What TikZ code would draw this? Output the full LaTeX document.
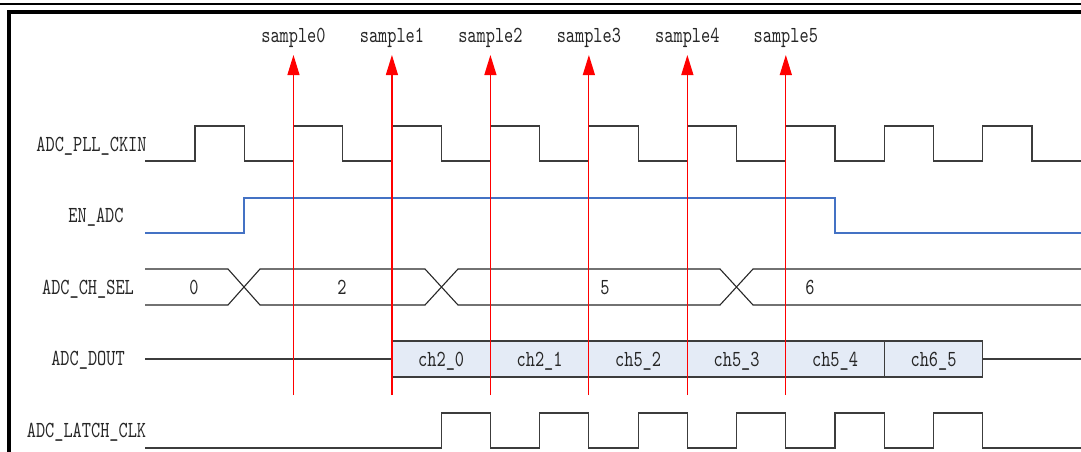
\documentclass[tikz,border=0pt]{standalone}
\usepackage{fontspec}
\usepackage{xcolor}
\usepackage{tikz}
\usetikzlibrary{arrows.meta, positioning}
\newfontfamily\wavefont[FakeStretch=0.76, Extension=.otf]{lmmono10-regular}
\definecolor{siggray}{RGB}{60,60,60}
\definecolor{enblue}{RGB}{68,114,196}
\definecolor{doutfill}{RGB}{228,235,246}
\definecolor{samplered}{RGB}{255,0,0}
\newcommand{\hp}{49.235}
\tikzset{
  lbl/.style={font=\wavefont\fontsize{23}{23}\selectfont, text=black!85,
    inner sep=0pt, text height=14pt, text depth=0pt},
  sig/.style={line width=1.2pt, color=siggray},
  ensig/.style={line width=1.6pt, color=enblue},
  busline/.style={line width=1.1pt, color=black!85},
  doutbox/.style={rectangle, draw=siggray, line width=1.1pt, fill=doutfill,
    minimum width=2*\hp pt, minimum height=36pt, inner sep=0pt,
    lbl, text height=14pt},
  samplearrow/.style={-{Triangle[length=20pt, width=12pt]}, line width=1.2pt,
    color=samplered},
}
\begin{document}
\begin{tikzpicture}[x=1pt, y=-1pt]
  \useasboundingbox (0,0) rectangle (1081,452);
  \draw[line width=2pt] (0,4) -- (1081,4);
  \draw[line width=3.5pt] (8.8,452) -- (8.8,11.8) -- (1081,11.8);

  \node[lbl] (ckinlbl) at (91.5,144) {ADC\_PLL\_CKIN};
  \node[lbl] (enlbl) at (96,215) {EN\_ADC};
  \node[lbl] (sellbl) at (88,287) {ADC\_CH\_SEL};
  \node[lbl] (doutlbl) at (88,358) {ADC\_DOUT};
  \node[lbl] (latchlbl) at (86.5,430) {ADC\_LATCH\_CLK};

  \draw[sig] (145,161) foreach \k in {0,...,8} {
      -- ({195+2*\k*\hp},161) -- ({195+2*\k*\hp},126)
      -- ({195+(2*\k+1)*\hp},126) -- ({195+(2*\k+1)*\hp},161) }
    -- (1081,161);

  \draw[ensig] (145,233) -- ({195+\hp},233) -- ({195+\hp},198)
    -- ({195+13*\hp},198) -- ({195+13*\hp},233) -- (1081,233);

  \draw[busline] (145,269) -- (228,269) -- (260,305) -- (425,305) -- (458,269)
    -- (720,269) -- (753,305) -- (1081,305);
  \draw[busline] (145,305) -- (228,305) -- (260,269) -- (425,269) -- (458,305)
    -- (720,305) -- (753,269) -- (1081,269);
  \node[lbl] (sel0) at (194,287) {0};
  \node[lbl] (sel2) at (342,287) {2};
  \node[lbl] (sel5) at (605,287) {5};
  \node[lbl] (sel6) at (810,287) {6};

  \foreach \i/\t in {0/ch2\_0, 1/ch2\_1, 2/ch5\_2, 3/ch5\_3, 4/ch5\_4, 5/ch6\_5}
    \node[doutbox] (d\i) at ({195+(5+2*\i)*\hp},359) {\t};
  \draw[sig] (145,359) -- (d0.west);
  \draw[sig] (d5.east) -- (1081,359);

  \draw[sig] (145,448) foreach \k in {0,...,5} {
      -- ({195+(2*\k+5)*\hp},448) -- ({195+(2*\k+5)*\hp},413)
      -- ({195+(2*\k+6)*\hp},413) -- ({195+(2*\k+6)*\hp},448) }
    -- (1081,448);

  \foreach \i in {0,...,5} {
    \node[lbl] (s\i) at ({195+(2+2*\i)*\hp},36) {sample\i};
    \coordinate (b\i) at ({195+(2+2*\i)*\hp},395);
    \coordinate (t\i) at ({195+(2+2*\i)*\hp},55);
    \draw[samplearrow] (b\i) -- (t\i);
  }
\end{tikzpicture}
\end{document}
